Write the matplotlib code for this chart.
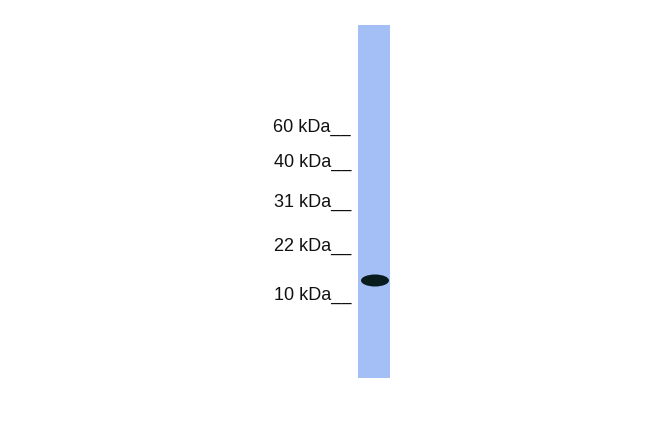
import matplotlib
matplotlib.use('Agg')
import matplotlib.pyplot as plt
from matplotlib.patches import Rectangle, Ellipse

# marker ladder (label, row position in the image, px from top)
marker_labels = ['60 kDa__', '40 kDa__', '31 kDa__', '22 kDa__', '10 kDa__']
marker_rows = [127, 162, 202, 246, 295]

# single lane and its one band
lane_left, lane_right = 358, 390
lane_top, lane_bottom = 25, 378
band_x, band_y = 375, 280.5
band_w, band_h = 28, 12

fig = plt.figure(figsize=(6.5, 4.33), dpi=100)
ax = fig.add_axes([0, 0, 1, 1])
ax.set_xlim(0, 650)
ax.set_ylim(433, 0)
ax.axis('off')

# lane
ax.add_patch(Rectangle((lane_left, lane_top), lane_right - lane_left,
                       lane_bottom - lane_top, facecolor='#a3bff5',
                       edgecolor='none'))

# band
ax.add_patch(Ellipse((band_x, band_y), band_w, band_h,
                     facecolor='#081c1e', edgecolor='none'))

# ladder labels
for lab, row in zip(marker_labels, marker_rows):
    ax.text(351, row, lab, ha='right', va='center', fontsize=13,
            family=['Liberation Sans', 'DejaVu Sans'], color='#111111')

fig.savefig('out.png', dpi=100, facecolor='white')
